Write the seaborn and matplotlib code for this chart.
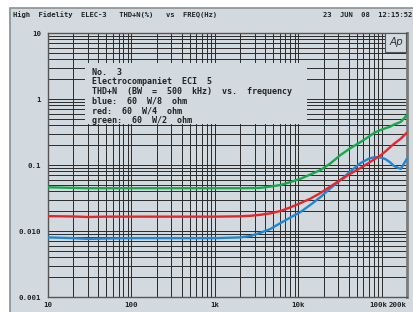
import matplotlib
matplotlib.use("Agg")
import matplotlib.pyplot as plt
import matplotlib.ticker as mticker
import matplotlib.transforms as mtransforms
from matplotlib.patches import Rectangle
import pandas as pd
import seaborn as sns

# frequency points (Hz) shared by all three traces
freq = [10, 20, 30, 50, 100, 200, 500, 1000, 2000, 2660, 3500, 4600, 6100, 8000,
        10600, 14000, 18400, 24000, 32000, 42000, 55600, 70000, 82000, 96600,
        110000, 125000, 140000, 168000, 200000]

# THD+N (%)
blue = [0.0080, 0.0078, 0.0076, 0.0077, 0.0078, 0.0078, 0.0078, 0.0078, 0.0080, 0.0084,
        0.0094, 0.0107, 0.0132, 0.0160, 0.0194, 0.0250, 0.0327, 0.0440, 0.0593, 0.0800,
        0.1070, 0.1250, 0.1320, 0.1300, 0.1230, 0.1100, 0.0966, 0.0870, 0.1250]
red = [0.0168, 0.0166, 0.0163, 0.0165, 0.0165, 0.0165, 0.0165, 0.0165, 0.0167, 0.0170,
       0.0176, 0.0185, 0.0201, 0.0228, 0.0265, 0.0310, 0.0377, 0.0470, 0.0593, 0.0740,
       0.0900, 0.1080, 0.1230, 0.1400, 0.1600, 0.1850, 0.2100, 0.2500, 0.3100]
green = [0.0460, 0.0450, 0.0445, 0.0445, 0.0445, 0.0445, 0.0445, 0.0445, 0.0445, 0.0447,
         0.0450, 0.0470, 0.0498, 0.0550, 0.0620, 0.0720, 0.0840, 0.1050, 0.1420, 0.1800,
         0.2230, 0.2700, 0.3100, 0.3390, 0.3600, 0.3800, 0.4100, 0.4490, 0.5700]

series_names = ["8 ohm", "4 ohm", "2 ohm"]
series_colors = ["#1f86d6", "#e8262a", "#17a84b"]

x_ticks = [10, 100, 1000, 10000, 100000, 200000]
x_labels = ["10", "100", "1k", "10k", "100k", "200k"]
y_ticks = [0.001, 0.01, 0.1, 1, 10]
y_labels = ["0.001", "0.010", "0.1", "1", "10"]

header_left = "High  Fidelity  ELEC-3   THD+N(%)   vs  FREQ(Hz)"
header_right = "23  JUN  08  12:15:52"
info_lines = ["No.  3",
              "Electrocompaniet  ECI  5",
              "THD+N  (BW  =  500  kHz)  vs.  frequency",
              "blue:  60  W/8  ohm",
              "red:  60  W/4  ohm",
              "green:  60  W/2  ohm"]

df = pd.DataFrame({
    "freq": freq * 3,
    "thd": blue + red + green,
    "load": [n for n in series_names for _ in freq],
})

sns.set_style("white")
plt.rcParams["font.family"] = ["DejaVu Sans Mono", "DejaVu Sans"]
bg = "#d2dadf"

W, H = 414, 312
fig = plt.figure(figsize=(W / 100, H / 100), dpi=100, facecolor="white")
# panel frame behind everything
fig.patches.append(Rectangle((10 / W, -0.01), 1.0, 1 - 8 / H + 0.01, transform=fig.transFigure,
                             facecolor=bg, edgecolor="#8a8f93", lw=1.2, zorder=-10))

ax = fig.add_axes([48 / W, 15 / H, 359 / W, 264 / H])
ax.set_facecolor(bg)
ax.set_xscale("log")
ax.set_yscale("log")
ax.set_xlim(10, 200000)
ax.set_ylim(0.001, 10)

ax.xaxis.set_minor_locator(mticker.LogLocator(base=10, subs=range(2, 10), numticks=20))
ax.yaxis.set_minor_locator(mticker.LogLocator(base=10, subs=range(2, 10), numticks=20))
ax.grid(which="both", color="#2a2a2a", lw=0.7)
ax.set_axisbelow(True)

sns.lineplot(data=df, x="freq", y="thd", hue="load", palette=series_colors,
             hue_order=series_names, lw=1.7, legend=False, ax=ax, zorder=3)

ax.set_xticks(x_ticks)
ax.set_xticklabels(x_labels)
ax.set_yticks(y_ticks)
ax.set_yticklabels(y_labels)
ax.tick_params(which="both", length=0)
ax.tick_params(axis="x", pad=3.5)
ax.tick_params(axis="y", pad=5)
for lab in ax.get_xticklabels() + ax.get_yticklabels():
    lab.set_fontsize(5.3)
    lab.set_fontweight("bold")
    lab.set_color("#222222")
# keep 100k / 200k apart at the right edge
xlabs = ax.get_xticklabels()
xlabs[-1].set_ha("right")
xlabs[-2].set_transform(xlabs[-2].get_transform() +
                        mtransforms.ScaledTranslation(-4 / 100, 0, fig.dpi_scale_trans))
ax.set_xlabel("")
ax.set_ylabel("")
for s in ax.spines.values():
    s.set_color("#555555")
    s.set_linewidth(1.0)
ax.spines["right"].set_color("#7a7a7a")
ax.spines["right"].set_linewidth(2.0)

# header
fig.text(13 / W, 1 - 15 / H, header_left, fontsize=5.1, fontweight="bold",
         color="#222222", va="center", ha="left")
fig.text(412 / W, 1 - 15 / H, header_right, fontsize=5.1, fontweight="bold",
         color="#222222", va="center", ha="right")

# info box
ax.add_patch(Rectangle((85 / W, 1 - 124 / H), (307 - 85) / W, (124 - 63) / H,
                       transform=fig.transFigure, facecolor=bg, edgecolor="none", zorder=4))
for i, line in enumerate(info_lines):
    fig.text(92 / W, 1 - (72 + i * 9.7) / H, line, fontsize=6.0, fontweight="bold",
             color="#222222", va="center", ha="left", zorder=5)

# Ap logo box
ax.add_patch(Rectangle((385 / W, 1 - 52 / H), (406 - 385) / W, (52 - 33) / H,
                       transform=fig.transFigure, facecolor=bg, edgecolor="#555555",
                       lw=0.8, zorder=4))
fig.text(396 / W, 1 - 42 / H, "Ap", fontsize=7.5, style="italic", family="DejaVu Sans",
         color="#333333", va="center", ha="center", zorder=5)

fig.savefig("out.png", dpi=100, facecolor="white")
